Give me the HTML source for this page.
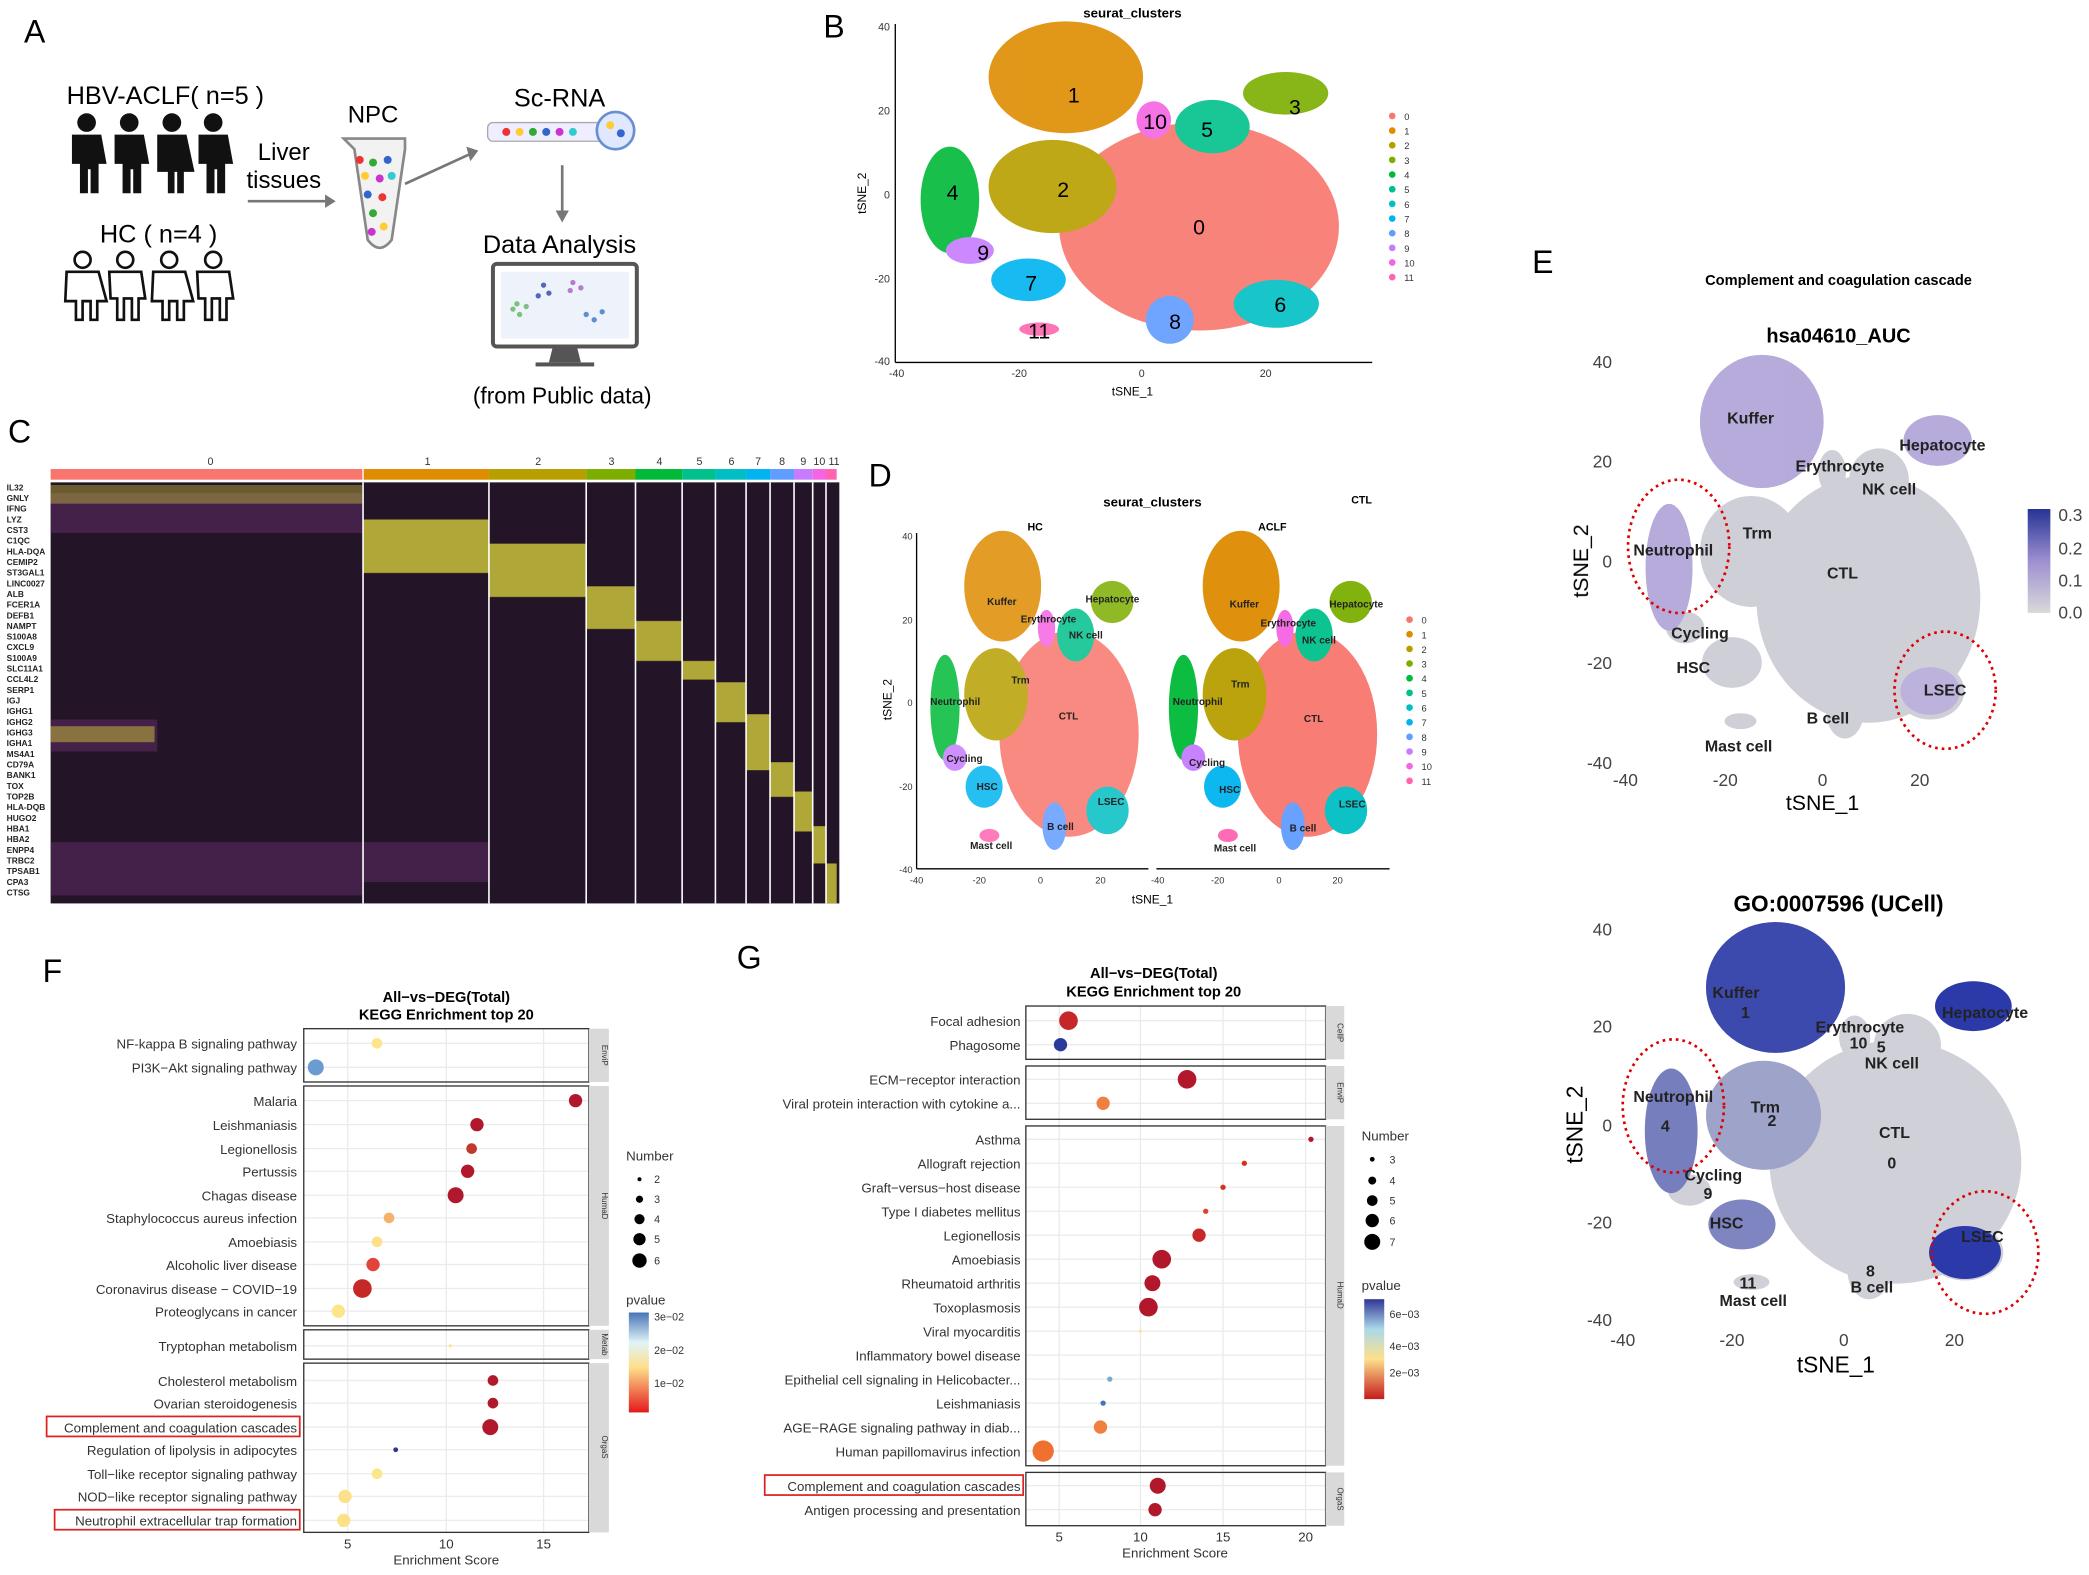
<!DOCTYPE html>
<html><head><meta charset="utf-8"><style>
html,body{margin:0;padding:0;background:#fff;}
svg{display:block;}
text{font-family:"Liberation Sans",Arial,sans-serif;}
</style></head><body>
<svg width="2089" height="1575" viewBox="0 0 1568 1182" preserveAspectRatio="none" xmlns="http://www.w3.org/2000/svg">
<defs>
<g id="geo">
<ellipse cx="900" cy="170" rx="105" ry="78"/>
<ellipse cx="800" cy="58" rx="58" ry="42"/>
<ellipse cx="790" cy="140" rx="48" ry="35"/>
<ellipse cx="965" cy="70" rx="32" ry="16"/>
<ellipse cx="713" cy="150" rx="22" ry="40"/>
<ellipse cx="910" cy="95" rx="28" ry="20"/>
<ellipse cx="958" cy="228" rx="32" ry="18"/>
<ellipse cx="772" cy="210" rx="28" ry="16"/>
<ellipse cx="878" cy="240" rx="18" ry="18"/>
<ellipse cx="728" cy="188" rx="18" ry="10"/>
<ellipse cx="866" cy="90" rx="13" ry="14"/>
<ellipse cx="780" cy="247" rx="15" ry="5"/>
</g>
<g id="col">
<ellipse cx="900" cy="170" rx="105" ry="78" fill="#F8766D"/>
<ellipse cx="800" cy="58" rx="58" ry="42" fill="#DE8C00"/>
<ellipse cx="790" cy="140" rx="48" ry="35" fill="#B79F00"/>
<ellipse cx="965" cy="70" rx="32" ry="16" fill="#7CAE00"/>
<ellipse cx="713" cy="150" rx="22" ry="40" fill="#00BA38"/>
<ellipse cx="910" cy="95" rx="28" ry="20" fill="#00C08B"/>
<ellipse cx="958" cy="228" rx="32" ry="18" fill="#00BFC4"/>
<ellipse cx="772" cy="210" rx="28" ry="16" fill="#00B4F0"/>
<ellipse cx="878" cy="240" rx="18" ry="18" fill="#619CFF"/>
<ellipse cx="728" cy="188" rx="18" ry="10" fill="#C77CFF"/>
<ellipse cx="866" cy="90" rx="13" ry="14" fill="#F564E3"/>
<ellipse cx="780" cy="247" rx="15" ry="5" fill="#FF64B0"/>
</g>
<linearGradient id="gE" x1="0" y1="1" x2="0" y2="0"><stop offset="0" stop-color="#d9d9d9"/><stop offset="0.5" stop-color="#9e8fd0"/><stop offset="1" stop-color="#253494"/></linearGradient>
<linearGradient id="gF" x1="0" y1="1" x2="0" y2="0"><stop offset="0" stop-color="#e31a1c"/><stop offset="0.45" stop-color="#fee08b"/><stop offset="0.7" stop-color="#e0f3f8"/><stop offset="1" stop-color="#4575b4"/></linearGradient>
<linearGradient id="gG" x1="0" y1="1" x2="0" y2="0"><stop offset="0" stop-color="#c51b1b"/><stop offset="0.4" stop-color="#fee08b"/><stop offset="0.7" stop-color="#abd9e9"/><stop offset="1" stop-color="#313695"/></linearGradient>
</defs>

<!-- Panel A -->
<text x="18" y="32" font-size="24">A</text>
<text x="50" y="78" font-size="19">HBV-ACLF( n=5 )</text>
<g fill="#111">
<circle cx="65" cy="92" r="7"/><path d="M54 101h22l4 22h-6v22h-6v-18h-2v18h-6v-22h-6z"/>
<circle cx="97" cy="92" r="7"/><path d="M86 101h22l4 22h-6v22h-6v-18h-2v18h-6v-22h-6z"/>
<circle cx="129" cy="92" r="7"/><path d="M118 101h22l6 28h-8v16h-5v-16h-2v16h-5v-16h-8z"/>
<circle cx="160" cy="92" r="7"/><path d="M149 101h22l4 22h-6v22h-6v-18h-2v18h-6v-22h-6z"/>
</g>
<text x="75" y="182" font-size="19">HC ( n=4 )</text>
<g fill="none" stroke="#111" stroke-width="2">
<circle cx="62" cy="195" r="6"/><path d="M50 204h24l6 22h-7v14h-5v-14h-6v14h-5v-14h-8z"/>
<circle cx="94" cy="195" r="6"/><path d="M82 204h24l3 20h-5v16h-5v-16h-6v16h-5v-16h-5z"/>
<circle cx="127" cy="195" r="6"/><path d="M115 204h24l6 22h-7v14h-5v-14h-6v14h-5v-14h-8z"/>
<circle cx="160" cy="195" r="6"/><path d="M148 204h24l3 20h-5v16h-5v-16h-6v16h-5v-16h-5z"/>
</g>
<text x="213" y="120" font-size="18" text-anchor="middle">Liver</text>
<text x="213" y="141" font-size="18" text-anchor="middle">tissues</text>
<line x1="186" y1="151" x2="244" y2="151" stroke="#777" stroke-width="2"/><path d="M244 146l8 5-8 5z" fill="#777"/>
<text x="280" y="92" font-size="18" text-anchor="middle">NPC</text>
<path d="M258 104h46v8l-10 68q-9 12-18 0l-10-68z" fill="#f2f2f2" stroke="#888" stroke-width="2"/>
<g>
<circle cx="270" cy="120" r="3" fill="#e33"/><circle cx="280" cy="122" r="3" fill="#3a3"/><circle cx="291" cy="120" r="3" fill="#36c"/>
<circle cx="274" cy="132" r="3" fill="#fc3"/><circle cx="285" cy="134" r="3" fill="#c3c"/><circle cx="294" cy="132" r="3" fill="#3cc"/>
<circle cx="276" cy="146" r="3" fill="#36c"/><circle cx="287" cy="148" r="3" fill="#e33"/><circle cx="280" cy="160" r="3" fill="#3a3"/><circle cx="288" cy="170" r="3" fill="#fc3"/><circle cx="279" cy="174" r="3" fill="#c3c"/>
</g>
<line x1="304" y1="138" x2="352" y2="116" stroke="#777" stroke-width="2"/><path d="M350 110l9 3-6 8z" fill="#777"/>
<text x="420" y="80" font-size="19" text-anchor="middle">Sc-RNA</text>
<rect x="366" y="92" width="88" height="14" rx="4" fill="#eef" stroke="#aaa"/>
<g><circle cx="380" cy="99" r="3" fill="#e33"/><circle cx="390" cy="99" r="3" fill="#fc3"/><circle cx="400" cy="99" r="3" fill="#3a3"/><circle cx="410" cy="99" r="3" fill="#36c"/><circle cx="420" cy="99" r="3" fill="#c3c"/><circle cx="430" cy="99" r="3" fill="#3cc"/></g>
<circle cx="462" cy="98" r="14" fill="#dfe8ff" stroke="#6a8fd0" stroke-width="2"/>
<circle cx="458" cy="94" r="3" fill="#fc3"/><circle cx="466" cy="100" r="3" fill="#36c"/>
<line x1="422" y1="124" x2="422" y2="160" stroke="#777" stroke-width="2"/><path d="M417 158l5 9 5-9z" fill="#777"/>
<text x="420" y="190" font-size="19" text-anchor="middle">Data Analysis</text>
<rect x="370" y="198" width="108" height="62" rx="3" fill="#fff" stroke="#555" stroke-width="3"/>
<rect x="376" y="204" width="96" height="50" fill="#eef3fb"/>
<g fill="#7bc27b"><circle cx="385" cy="232" r="2"/><circle cx="390" cy="236" r="2"/><circle cx="395" cy="230" r="2"/><circle cx="388" cy="228" r="2"/></g>
<g fill="#5566bb"><circle cx="408" cy="214" r="2"/><circle cx="412" cy="220" r="2"/><circle cx="404" cy="222" r="2"/></g>
<g fill="#b77bd0"><circle cx="430" cy="212" r="2"/><circle cx="436" cy="216" r="2"/><circle cx="428" cy="218" r="2"/></g>
<g fill="#5b8fd0"><circle cx="440" cy="236" r="2"/><circle cx="446" cy="240" r="2"/><circle cx="452" cy="234" r="2"/></g>
<path d="M415 260h18l3 12h-24z" fill="#555"/><rect x="402" y="272" width="44" height="3" fill="#555"/>
<text x="422" y="303" font-size="17" text-anchor="middle">(from Public data)</text>

<!-- Panel B -->
<text x="618" y="28" font-size="24">B</text>
<text x="850" y="13" font-size="10" font-weight="bold" text-anchor="middle">seurat_clusters</text>
<rect x="672" y="18" width="358" height="254" fill="#fff"/>
<g opacity="0.9"><use href="#col"/></g>
<g font-size="16" text-anchor="middle">
<text x="900" y="176">0</text><text x="806" y="77">1</text><text x="798" y="148">2</text><text x="972" y="86">3</text><text x="715" y="150">4</text><text x="906" y="103">5</text><text x="961" y="234">6</text><text x="774" y="218">7</text><text x="882" y="247">8</text><text x="738" y="195">9</text><text x="867" y="97">10</text><text x="780" y="254">11</text>
</g>
<line x1="672" y1="18" x2="672" y2="272" stroke="#000"/><line x1="672" y1="272" x2="1030" y2="272" stroke="#000"/>
<g font-size="8" fill="#333" text-anchor="end">
<text x="668" y="23">40</text><text x="668" y="86">20</text><text x="668" y="149">0</text><text x="668" y="212">-20</text><text x="668" y="274">-40</text></g>
<g font-size="8" fill="#333" text-anchor="middle">
<text x="673" y="283">-40</text><text x="765" y="283">-20</text><text x="857" y="283">0</text><text x="950" y="283">20</text></g>
<text x="850" y="297" font-size="9" text-anchor="middle">tSNE_1</text>
<text x="650" y="145" font-size="9" text-anchor="middle" transform="rotate(-90 650 145)">tSNE_2</text>
<g font-size="7" fill="#333">
<circle cx="1045" cy="87" r="2.5" fill="#F8766D"/><text x="1054" y="90">0</text>
<circle cx="1045" cy="98" r="2.5" fill="#DE8C00"/><text x="1054" y="101">1</text>
<circle cx="1045" cy="109" r="2.5" fill="#B79F00"/><text x="1054" y="112">2</text>
<circle cx="1045" cy="120" r="2.5" fill="#7CAE00"/><text x="1054" y="123">3</text>
<circle cx="1045" cy="131" r="2.5" fill="#00BA38"/><text x="1054" y="134">4</text>
<circle cx="1045" cy="142" r="2.5" fill="#00C08B"/><text x="1054" y="145">5</text>
<circle cx="1045" cy="153" r="2.5" fill="#00BFC4"/><text x="1054" y="156">6</text>
<circle cx="1045" cy="164" r="2.5" fill="#00B4F0"/><text x="1054" y="167">7</text>
<circle cx="1045" cy="175" r="2.5" fill="#619CFF"/><text x="1054" y="178">8</text>
<circle cx="1045" cy="186" r="2.5" fill="#C77CFF"/><text x="1054" y="189">9</text>
<circle cx="1045" cy="197" r="2.5" fill="#F564E3"/><text x="1054" y="200">10</text>
<circle cx="1045" cy="208" r="2.5" fill="#FF64B0"/><text x="1054" y="211">11</text>
</g>

<!-- Panel C -->
<text x="6" y="332" font-size="24">C</text>
<rect x="38" y="362" width="592" height="316" fill="#241428"/>
<g fill="#5a2a5e" opacity="0.6">
<rect x="38" y="370" width="234" height="30"/><rect x="38" y="540" width="80" height="24"/><rect x="38" y="632" width="234" height="40"/><rect x="273" y="632" width="94" height="30"/>
</g>
<g fill="#c9c23a" opacity="0.85">
<rect x="38" y="364" width="234" height="14" opacity="0.5"/>
<rect x="273" y="390" width="94" height="40"/>
<rect x="367" y="408" width="73" height="40"/>
<rect x="440" y="440" width="37" height="32"/>
<rect x="477" y="466" width="35" height="30"/>
<rect x="512" y="496" width="25" height="14"/>
<rect x="537" y="512" width="23" height="30"/>
<rect x="560" y="536" width="18" height="42"/>
<rect x="578" y="572" width="18" height="26"/>
<rect x="596" y="594" width="14" height="30"/>
<rect x="610" y="620" width="10" height="28"/>
<rect x="620" y="648" width="8" height="30"/>
<rect x="38" y="545" width="78" height="12" opacity="0.6"/>
</g>
<g>
<rect x="38" y="352" width="234" height="8" fill="#F8766D"/><rect x="273" y="352" width="94" height="8" fill="#DE8C00"/><rect x="367" y="352" width="73" height="8" fill="#B79F00"/><rect x="440" y="352" width="37" height="8" fill="#7CAE00"/><rect x="477" y="352" width="35" height="8" fill="#00BA38"/><rect x="512" y="352" width="25" height="8" fill="#00C08B"/><rect x="537" y="352" width="23" height="8" fill="#00BFC4"/><rect x="560" y="352" width="18" height="8" fill="#00B4F0"/><rect x="578" y="352" width="18" height="8" fill="#619CFF"/><rect x="596" y="352" width="14" height="8" fill="#C77CFF"/><rect x="610" y="352" width="10" height="8" fill="#F564E3"/><rect x="620" y="352" width="8" height="8" fill="#FF64B0"/>
</g>
<g stroke="#fff" stroke-width="1.2"><line x1="272.5" y1="362" x2="272.5" y2="678"/><line x1="367" y1="362" x2="367" y2="678"/><line x1="440" y1="362" x2="440" y2="678"/><line x1="477" y1="362" x2="477" y2="678"/><line x1="512" y1="362" x2="512" y2="678"/><line x1="537" y1="362" x2="537" y2="678"/><line x1="560" y1="362" x2="560" y2="678"/><line x1="578" y1="362" x2="578" y2="678"/><line x1="596" y1="362" x2="596" y2="678"/><line x1="610" y1="362" x2="610" y2="678"/><line x1="620" y1="362" x2="620" y2="678"/></g>
<g font-size="8" text-anchor="middle" fill="#333">
<text x="158" y="349">0</text><text x="321" y="349">1</text><text x="404" y="349">2</text><text x="459" y="349">3</text><text x="495" y="349">4</text><text x="525" y="349">5</text><text x="549" y="349">6</text><text x="569" y="349">7</text><text x="587" y="349">8</text><text x="603" y="349">9</text><text x="615" y="349">10</text><text x="626" y="349">11</text></g>
<g font-size="6.3" font-weight="bold" fill="#222">
<text x="5" y="368">IL32</text><text x="5" y="376">GNLY</text><text x="5" y="384">IFNG</text><text x="5" y="392">LYZ</text><text x="5" y="400">CST3</text><text x="5" y="408">C1QC</text><text x="5" y="416">HLA-DQA</text><text x="5" y="424">CEMIP2</text><text x="5" y="432">ST3GAL1</text><text x="5" y="440">LINC0027</text><text x="5" y="448">ALB</text><text x="5" y="456">FCER1A</text><text x="5" y="464">DEFB1</text><text x="5" y="472">NAMPT</text><text x="5" y="480">S100A8</text><text x="5" y="488">CXCL9</text><text x="5" y="496">S100A9</text><text x="5" y="504">SLC11A1</text><text x="5" y="512">CCL4L2</text><text x="5" y="520">SERP1</text><text x="5" y="528">IGJ</text><text x="5" y="536">IGHG1</text><text x="5" y="544">IGHG2</text><text x="5" y="552">IGHG3</text><text x="5" y="560">IGHA1</text><text x="5" y="568">MS4A1</text><text x="5" y="576">CD79A</text><text x="5" y="584">BANK1</text><text x="5" y="592">TOX</text><text x="5" y="600">TOP2B</text><text x="5" y="608">HLA-DQB</text><text x="5" y="616">HUGO2</text><text x="5" y="624">HBA1</text><text x="5" y="632">HBA2</text><text x="5" y="640">ENPP4</text><text x="5" y="648">TRBC2</text><text x="5" y="656">TPSAB1</text><text x="5" y="664">CPA3</text><text x="5" y="672">CTSG</text>
</g>

<!-- Panel D -->
<text x="652" y="365" font-size="24">D</text>
<text x="865" y="380" font-size="10" font-weight="bold" text-anchor="middle">seurat_clusters</text>
<text x="1022" y="378" font-size="8" font-weight="bold" text-anchor="middle">CTL</text>
<text x="777" y="398" font-size="8" font-weight="bold" text-anchor="middle">HC</text>
<text x="955" y="398" font-size="8" font-weight="bold" text-anchor="middle">ACLF</text>
<g opacity="0.85"><use href="#col" transform="translate(781,527) scale(0.498,0.99) translate(-857,-146)"/></g>
<g opacity="0.95"><use href="#col" transform="translate(960,527) scale(0.498,0.99) translate(-857,-146)"/></g>
<line x1="688" y1="400" x2="688" y2="652" stroke="#000"/><line x1="688" y1="652" x2="862" y2="652" stroke="#000"/><line x1="868" y1="652" x2="1043" y2="652" stroke="#000"/>
<g font-size="7" fill="#333" text-anchor="end"><text x="685" y="405">40</text><text x="685" y="468">20</text><text x="685" y="530">0</text><text x="685" y="593">-20</text><text x="685" y="655">-40</text></g>
<g font-size="7" fill="#333" text-anchor="middle"><text x="688" y="663">-40</text><text x="735" y="663">-20</text><text x="781" y="663">0</text><text x="826" y="663">20</text><text x="869" y="663">-40</text><text x="914" y="663">-20</text><text x="960" y="663">0</text><text x="1004" y="663">20</text></g>
<text x="865" y="678" font-size="9" text-anchor="middle">tSNE_1</text>
<text x="669" y="525" font-size="9" text-anchor="middle" transform="rotate(-90 669 525)">tSNE_2</text>
<g font-size="7.5" font-weight="bold" fill="#222" text-anchor="middle">
<text x="752" y="454">Kuffer</text><text x="787" y="467">Erythrocyte</text><text x="835" y="452">Hepatocyte</text><text x="815" y="479">NK cell</text><text x="766" y="513">Trm</text><text x="717" y="529">Neutrophil</text><text x="802" y="540">CTL</text><text x="724" y="572">Cycling</text><text x="741" y="593">HSC</text><text x="834" y="604">LSEC</text><text x="796" y="623">B cell</text><text x="744" y="637">Mast cell</text>
<text x="934" y="456">Kuffer</text><text x="967" y="470">Erythrocyte</text><text x="1018" y="456">Hepatocyte</text><text x="990" y="483">NK cell</text><text x="931" y="516">Trm</text><text x="899" y="529">Neutrophil</text><text x="986" y="542">CTL</text><text x="906" y="575">Cycling</text><text x="923" y="595">HSC</text><text x="1015" y="606">LSEC</text><text x="978" y="624">B cell</text><text x="927" y="639">Mast cell</text>
</g>
<g font-size="7" fill="#333">
<circle cx="1058" cy="465" r="2.5" fill="#F8766D"/><text x="1067" y="468">0</text>
<circle cx="1058" cy="476" r="2.5" fill="#DE8C00"/><text x="1067" y="479">1</text>
<circle cx="1058" cy="487" r="2.5" fill="#B79F00"/><text x="1067" y="490">2</text>
<circle cx="1058" cy="498" r="2.5" fill="#7CAE00"/><text x="1067" y="501">3</text>
<circle cx="1058" cy="509" r="2.5" fill="#00BA38"/><text x="1067" y="512">4</text>
<circle cx="1058" cy="520" r="2.5" fill="#00C08B"/><text x="1067" y="523">5</text>
<circle cx="1058" cy="531" r="2.5" fill="#00BFC4"/><text x="1067" y="534">6</text>
<circle cx="1058" cy="542" r="2.5" fill="#00B4F0"/><text x="1067" y="545">7</text>
<circle cx="1058" cy="553" r="2.5" fill="#619CFF"/><text x="1067" y="556">8</text>
<circle cx="1058" cy="564" r="2.5" fill="#C77CFF"/><text x="1067" y="567">9</text>
<circle cx="1058" cy="575" r="2.5" fill="#F564E3"/><text x="1067" y="578">10</text>
<circle cx="1058" cy="586" r="2.5" fill="#FF64B0"/><text x="1067" y="589">11</text>
</g>

<!-- Panel E -->
<text x="1150" y="205" font-size="24">E</text>
<text x="1380" y="214" font-size="11" font-weight="bold" text-anchor="middle">Complement and coagulation cascade</text>
<text x="1380" y="257" font-size="15" font-weight="bold" text-anchor="middle">hsa04610_AUC</text>
<g fill="#cfcfd8"><use href="#geo" transform="translate(1368,421) scale(0.8,1.19) translate(-857,-146)"/></g>
<g fill="#b4a6dc" opacity="0.9" transform="translate(1368,421) scale(0.8,1.19) translate(-857,-146)">
<ellipse cx="800" cy="58" rx="58" ry="42"/><ellipse cx="965" cy="70" rx="32" ry="16"/><ellipse cx="713" cy="150" rx="22" ry="40"/><ellipse cx="958" cy="228" rx="28" ry="15" opacity="0.8"/></g>
<g font-size="13" fill="#444" text-anchor="end"><text x="1210" y="276">40</text><text x="1210" y="351">20</text><text x="1210" y="426">0</text><text x="1210" y="502">-20</text><text x="1210" y="577">-40</text></g>
<g font-size="13" fill="#444" text-anchor="middle"><text x="1220" y="590">-40</text><text x="1295" y="590">-20</text><text x="1368" y="590">0</text><text x="1441" y="590">20</text></g>
<text x="1368" y="608" font-size="16" text-anchor="middle">tSNE_1</text>
<text x="1192" y="421" font-size="16" text-anchor="middle" transform="rotate(-90 1192 421)">tSNE_2</text>
<g font-size="12" font-weight="bold" fill="#222" text-anchor="middle">
<text x="1314" y="318">Kuffer</text><text x="1458" y="338">Hepatocyte</text><text x="1381" y="354">Erythrocyte</text><text x="1418" y="371">NK cell</text><text x="1256" y="417">Neutrophil</text><text x="1319" y="404">Trm</text><text x="1383" y="434">CTL</text><text x="1276" y="479">Cycling</text><text x="1271" y="505">HSC</text><text x="1460" y="522">LSEC</text><text x="1372" y="543">B cell</text><text x="1305" y="564">Mast cell</text></g>
<ellipse cx="1260" cy="410" rx="38" ry="50" fill="none" stroke="#d00" stroke-width="2" stroke-dasharray="2,3"/>
<ellipse cx="1460" cy="518" rx="38" ry="44" fill="none" stroke="#d00" stroke-width="2" stroke-dasharray="2,3"/>
<rect x="1522" y="382" width="17" height="78" fill="url(#gE)"/>
<g font-size="13" fill="#444"><text x="1545" y="391">0.3</text><text x="1545" y="416">0.2</text><text x="1545" y="440">0.1</text><text x="1545" y="464">0.0</text></g>

<text x="1380" y="684" font-size="17" font-weight="bold" text-anchor="middle">GO:0007596 (UCell)</text>
<g fill="#d0d0d8"><use href="#geo" transform="translate(1384,844) scale(0.9,1.17) translate(-857,-146)"/></g>
<g fill="#2b3aa8" transform="translate(1384,844) scale(0.9,1.17) translate(-857,-146)">
<ellipse cx="800" cy="58" rx="58" ry="42" opacity="0.9"/><ellipse cx="965" cy="70" rx="32" ry="16"/><ellipse cx="958" cy="228" rx="30" ry="17"/><ellipse cx="713" cy="150" rx="22" ry="40" opacity="0.55"/><ellipse cx="772" cy="210" rx="28" ry="16" opacity="0.5"/><ellipse cx="790" cy="140" rx="48" ry="35" opacity="0.3"/></g>
<g font-size="13" fill="#444" text-anchor="end"><text x="1210" y="702">40</text><text x="1210" y="775">20</text><text x="1210" y="849">0</text><text x="1210" y="922">-20</text><text x="1210" y="995">-40</text></g>
<g font-size="13" fill="#444" text-anchor="middle"><text x="1218" y="1010">-40</text><text x="1300" y="1010">-20</text><text x="1384" y="1010">0</text><text x="1467" y="1010">20</text></g>
<text x="1378" y="1030" font-size="17" text-anchor="middle">tSNE_1</text>
<text x="1188" y="844" font-size="17" text-anchor="middle" transform="rotate(-90 1188 844)">tSNE_2</text>
<g font-size="12" font-weight="bold" fill="#222" text-anchor="middle">
<text x="1303" y="749">Kuffer</text><text x="1310" y="764">1</text><text x="1490" y="764">Hepatocyte</text><text x="1396" y="775">Erythrocyte</text><text x="1395" y="787">10</text><text x="1420" y="802">NK cell</text><text x="1412" y="790">5</text><text x="1256" y="827">Neutrophil</text><text x="1325" y="835">Trm</text><text x="1330" y="845">2</text><text x="1250" y="849">4</text><text x="1422" y="854">CTL</text><text x="1420" y="877">0</text><text x="1286" y="886">Cycling</text><text x="1282" y="900">9</text><text x="1296" y="922">HSC</text><text x="1488" y="932">LSEC</text><text x="1404" y="958">8</text><text x="1405" y="970">B cell</text><text x="1312" y="967">11</text><text x="1316" y="980">Mast cell</text></g>
<ellipse cx="1256" cy="830" rx="38" ry="50" fill="none" stroke="#d00" stroke-width="2" stroke-dasharray="2,3"/>
<ellipse cx="1490" cy="940" rx="40" ry="46" fill="none" stroke="#d00" stroke-width="2" stroke-dasharray="2,3"/>

<!-- Panel F -->
<text x="32" y="737" font-size="24">F</text>
<text x="335" y="752" font-size="11" font-weight="bold" text-anchor="middle">All−vs−DEG(Total)</text>
<text x="335" y="765" font-size="11" font-weight="bold" text-anchor="middle">KEGG Enrichment top 20</text>
<g stroke="#ebebeb">
<line x1="261" y1="772" x2="261" y2="1150"/><line x1="335" y1="772" x2="335" y2="1150"/><line x1="408" y1="772" x2="408" y2="1150"/>
<line x1="228" y1="783" x2="442" y2="783"/><line x1="228" y1="801" x2="442" y2="801"/>
<line x1="228" y1="826" x2="442" y2="826"/><line x1="228" y1="844" x2="442" y2="844"/><line x1="228" y1="862" x2="442" y2="862"/><line x1="228" y1="879" x2="442" y2="879"/><line x1="228" y1="897" x2="442" y2="897"/><line x1="228" y1="914" x2="442" y2="914"/><line x1="228" y1="932" x2="442" y2="932"/><line x1="228" y1="949" x2="442" y2="949"/><line x1="228" y1="967" x2="442" y2="967"/><line x1="228" y1="984" x2="442" y2="984"/>
<line x1="228" y1="1010" x2="442" y2="1010"/>
<line x1="228" y1="1036" x2="442" y2="1036"/><line x1="228" y1="1053" x2="442" y2="1053"/><line x1="228" y1="1071" x2="442" y2="1071"/><line x1="228" y1="1088" x2="442" y2="1088"/><line x1="228" y1="1106" x2="442" y2="1106"/><line x1="228" y1="1123" x2="442" y2="1123"/><line x1="228" y1="1141" x2="442" y2="1141"/>
</g>
<g fill="none" stroke="#333" stroke-width="1"><rect x="228" y="772" width="214" height="40"/><rect x="228" y="815" width="214" height="180"/><rect x="228" y="998" width="214" height="22"/><rect x="228" y="1023" width="214" height="127"/></g>
<g fill="#d9d9d9"><rect x="442" y="772" width="15" height="40"/><rect x="442" y="815" width="15" height="180"/><rect x="442" y="998" width="15" height="22"/><rect x="442" y="1023" width="15" height="127"/></g>
<g font-size="6" fill="#333" text-anchor="middle"><text transform="translate(452,792) rotate(90)">EnviP</text><text transform="translate(452,905) rotate(90)">HumaD</text><text transform="translate(452,1009) rotate(90)">Metab</text><text transform="translate(452,1086) rotate(90)">OrgaS</text></g>
<g font-size="10" fill="#333" text-anchor="end">
<text x="223" y="787">NF-kappa B signaling pathway</text><text x="223" y="805">PI3K−Akt signaling pathway</text>
<text x="223" y="830">Malaria</text><text x="223" y="848">Leishmaniasis</text><text x="223" y="866">Legionellosis</text><text x="223" y="883">Pertussis</text><text x="223" y="901">Chagas disease</text><text x="223" y="918">Staphylococcus aureus infection</text><text x="223" y="936">Amoebiasis</text><text x="223" y="953">Alcoholic liver disease</text><text x="223" y="971">Coronavirus disease − COVID−19</text><text x="223" y="988">Proteoglycans in cancer</text>
<text x="223" y="1014">Tryptophan metabolism</text>
<text x="223" y="1040">Cholesterol metabolism</text><text x="223" y="1057">Ovarian steroidogenesis</text><text x="223" y="1075">Complement and coagulation cascades</text><text x="223" y="1092">Regulation of lipolysis in adipocytes</text><text x="223" y="1110">Toll−like receptor signaling pathway</text><text x="223" y="1127">NOD−like receptor signaling pathway</text><text x="223" y="1145">Neutrophil extracellular trap formation</text>
</g>
<rect x="35" y="1063" width="190" height="15" fill="none" stroke="#d22" stroke-width="1.3"/>
<rect x="41" y="1133" width="184" height="15" fill="none" stroke="#d22" stroke-width="1.3"/>
<g>
<circle cx="283" cy="783" r="4" fill="#fde68a"/><circle cx="237" cy="801" r="6" fill="#6a9bd1"/>
<circle cx="432" cy="826" r="5" fill="#b2182b"/><circle cx="358" cy="844" r="5" fill="#b2182b"/><circle cx="354" cy="862" r="4" fill="#c0392b"/><circle cx="351" cy="879" r="5" fill="#b2182b"/><circle cx="342" cy="897" r="6" fill="#b2182b"/><circle cx="292" cy="914" r="4" fill="#f6b26b"/><circle cx="283" cy="932" r="4" fill="#fde08a"/><circle cx="280" cy="949" r="5" fill="#e0443a"/><circle cx="272" cy="967" r="7" fill="#c62828"/><circle cx="254" cy="984" r="5" fill="#fde68a"/>
<circle cx="338" cy="1010" r="1.2" fill="#fde68a"/>
<circle cx="370" cy="1036" r="4" fill="#b2182b"/><circle cx="370" cy="1053" r="4" fill="#b2182b"/><circle cx="368" cy="1071" r="6" fill="#b2182b"/><circle cx="297" cy="1088" r="1.8" fill="#313695"/><circle cx="283" cy="1106" r="4" fill="#fde68a"/><circle cx="259" cy="1123" r="5" fill="#fde08a"/><circle cx="258" cy="1141" r="5" fill="#fde08a"/>
</g>
<g font-size="10" fill="#333" text-anchor="middle"><text x="261" y="1162">5</text><text x="335" y="1162">10</text><text x="408" y="1162">15</text></g>
<text x="335" y="1174" font-size="10" fill="#333" text-anchor="middle">Enrichment Score</text>
<text x="470" y="871" font-size="10" fill="#333">Number</text>
<g fill="#000"><circle cx="480" cy="885" r="1.5"/><circle cx="480" cy="900" r="2.7"/><circle cx="480" cy="915" r="3.8"/><circle cx="480" cy="930" r="4.6"/><circle cx="480" cy="946" r="5.4"/></g>
<g font-size="8" fill="#333"><text x="491" y="888">2</text><text x="491" y="903">3</text><text x="491" y="918">4</text><text x="491" y="933">5</text><text x="491" y="949">6</text></g>
<text x="470" y="979" font-size="10" fill="#333">pvalue</text>
<rect x="472" y="985" width="15" height="75" fill="url(#gF)"/>
<g font-size="8" fill="#333"><text x="491" y="991">3e−02</text><text x="491" y="1016">2e−02</text><text x="491" y="1041">1e−02</text></g>

<!-- Panel G -->
<text x="553" y="727" font-size="24">G</text>
<text x="866" y="734" font-size="11" font-weight="bold" text-anchor="middle">All−vs−DEG(Total)</text>
<text x="866" y="748" font-size="11" font-weight="bold" text-anchor="middle">KEGG Enrichment top 20</text>
<g stroke="#ebebeb">
<line x1="795" y1="755" x2="795" y2="1145"/><line x1="856" y1="755" x2="856" y2="1145"/><line x1="918" y1="755" x2="918" y2="1145"/><line x1="980" y1="755" x2="980" y2="1145"/>
<line x1="770" y1="766" x2="995" y2="766"/><line x1="770" y1="784" x2="995" y2="784"/><line x1="770" y1="810" x2="995" y2="810"/><line x1="770" y1="828" x2="995" y2="828"/>
<line x1="770" y1="855" x2="995" y2="855"/><line x1="770" y1="873" x2="995" y2="873"/><line x1="770" y1="891" x2="995" y2="891"/><line x1="770" y1="909" x2="995" y2="909"/><line x1="770" y1="927" x2="995" y2="927"/><line x1="770" y1="945" x2="995" y2="945"/><line x1="770" y1="963" x2="995" y2="963"/><line x1="770" y1="981" x2="995" y2="981"/><line x1="770" y1="999" x2="995" y2="999"/><line x1="770" y1="1017" x2="995" y2="1017"/><line x1="770" y1="1035" x2="995" y2="1035"/><line x1="770" y1="1053" x2="995" y2="1053"/><line x1="770" y1="1071" x2="995" y2="1071"/><line x1="770" y1="1089" x2="995" y2="1089"/>
<line x1="770" y1="1115" x2="995" y2="1115"/><line x1="770" y1="1133" x2="995" y2="1133"/>
</g>
<g fill="none" stroke="#333"><rect x="770" y="755" width="225" height="40"/><rect x="770" y="800" width="225" height="40"/><rect x="770" y="845" width="225" height="255"/><rect x="770" y="1105" width="225" height="40"/></g>
<g fill="#d9d9d9"><rect x="995" y="755" width="14" height="40"/><rect x="995" y="800" width="14" height="40"/><rect x="995" y="845" width="14" height="255"/><rect x="995" y="1105" width="14" height="40"/></g>
<g font-size="6" fill="#333" text-anchor="middle"><text transform="translate(1004,775) rotate(90)">CellP</text><text transform="translate(1004,820) rotate(90)">EnviP</text><text transform="translate(1004,972) rotate(90)">HumaD</text><text transform="translate(1004,1125) rotate(90)">OrgaS</text></g>
<g font-size="10" fill="#333" text-anchor="end">
<text x="766" y="770">Focal adhesion</text><text x="766" y="788">Phagosome</text><text x="766" y="814">ECM−receptor interaction</text><text x="766" y="832">Viral protein interaction with cytokine a...</text>
<text x="766" y="859">Asthma</text><text x="766" y="877">Allograft rejection</text><text x="766" y="895">Graft−versus−host disease</text><text x="766" y="913">Type I diabetes mellitus</text><text x="766" y="931">Legionellosis</text><text x="766" y="949">Amoebiasis</text><text x="766" y="967">Rheumatoid arthritis</text><text x="766" y="985">Toxoplasmosis</text><text x="766" y="1003">Viral myocarditis</text><text x="766" y="1021">Inflammatory bowel disease</text><text x="766" y="1039">Epithelial cell signaling in Helicobacter...</text><text x="766" y="1057">Leishmaniasis</text><text x="766" y="1075">AGE−RAGE signaling pathway in diab...</text><text x="766" y="1093">Human papillomavirus infection</text>
<text x="766" y="1119">Complement and coagulation cascades</text><text x="766" y="1137">Antigen processing and presentation</text>
</g>
<rect x="574" y="1107" width="194" height="15" fill="none" stroke="#d22" stroke-width="1.3"/>
<g>
<circle cx="802" cy="766" r="7" fill="#c62828"/><circle cx="796" cy="784" r="5" fill="#2b3a9a"/><circle cx="891" cy="810" r="7" fill="#b2182b"/><circle cx="828" cy="828" r="5" fill="#f08040"/>
<circle cx="984" cy="855" r="2" fill="#b2182b"/><circle cx="934" cy="873" r="2" fill="#d7301f"/><circle cx="918" cy="891" r="2" fill="#d7301f"/><circle cx="905" cy="909" r="2" fill="#e04030"/><circle cx="900" cy="927" r="5" fill="#c62828"/><circle cx="872" cy="945" r="7" fill="#b2182b"/><circle cx="865" cy="963" r="6" fill="#b2182b"/><circle cx="862" cy="981" r="7" fill="#b2182b"/><circle cx="856" cy="999" r="1.2" fill="#fde68a"/><circle cx="833" cy="1035" r="2" fill="#74add1"/><circle cx="828" cy="1053" r="2" fill="#4575b4"/><circle cx="826" cy="1071" r="5" fill="#f08040"/><circle cx="783" cy="1089" r="8" fill="#f07030"/>
<circle cx="869" cy="1115" r="6" fill="#b2182b"/><circle cx="867" cy="1133" r="5" fill="#b2182b"/>
</g>
<g font-size="10" fill="#333" text-anchor="middle"><text x="795" y="1157">5</text><text x="856" y="1157">10</text><text x="918" y="1157">15</text><text x="980" y="1157">20</text></g>
<text x="882" y="1169" font-size="10" fill="#333" text-anchor="middle">Enrichment Score</text>
<text x="1022" y="856" font-size="10" fill="#333">Number</text>
<g fill="#000"><circle cx="1030" cy="870" r="1.8"/><circle cx="1030" cy="886" r="3"/><circle cx="1030" cy="901" r="4"/><circle cx="1030" cy="916" r="5"/><circle cx="1030" cy="932" r="6"/></g>
<g font-size="8" fill="#333"><text x="1043" y="873">3</text><text x="1043" y="889">4</text><text x="1043" y="904">5</text><text x="1043" y="919">6</text><text x="1043" y="935">7</text></g>
<text x="1022" y="968" font-size="10" fill="#333">pvalue</text>
<rect x="1024" y="975" width="15" height="75" fill="url(#gG)"/>
<g font-size="8" fill="#333"><text x="1043" y="989">6e−03</text><text x="1043" y="1013">4e−03</text><text x="1043" y="1033">2e−03</text></g>
</svg>
</body></html>
